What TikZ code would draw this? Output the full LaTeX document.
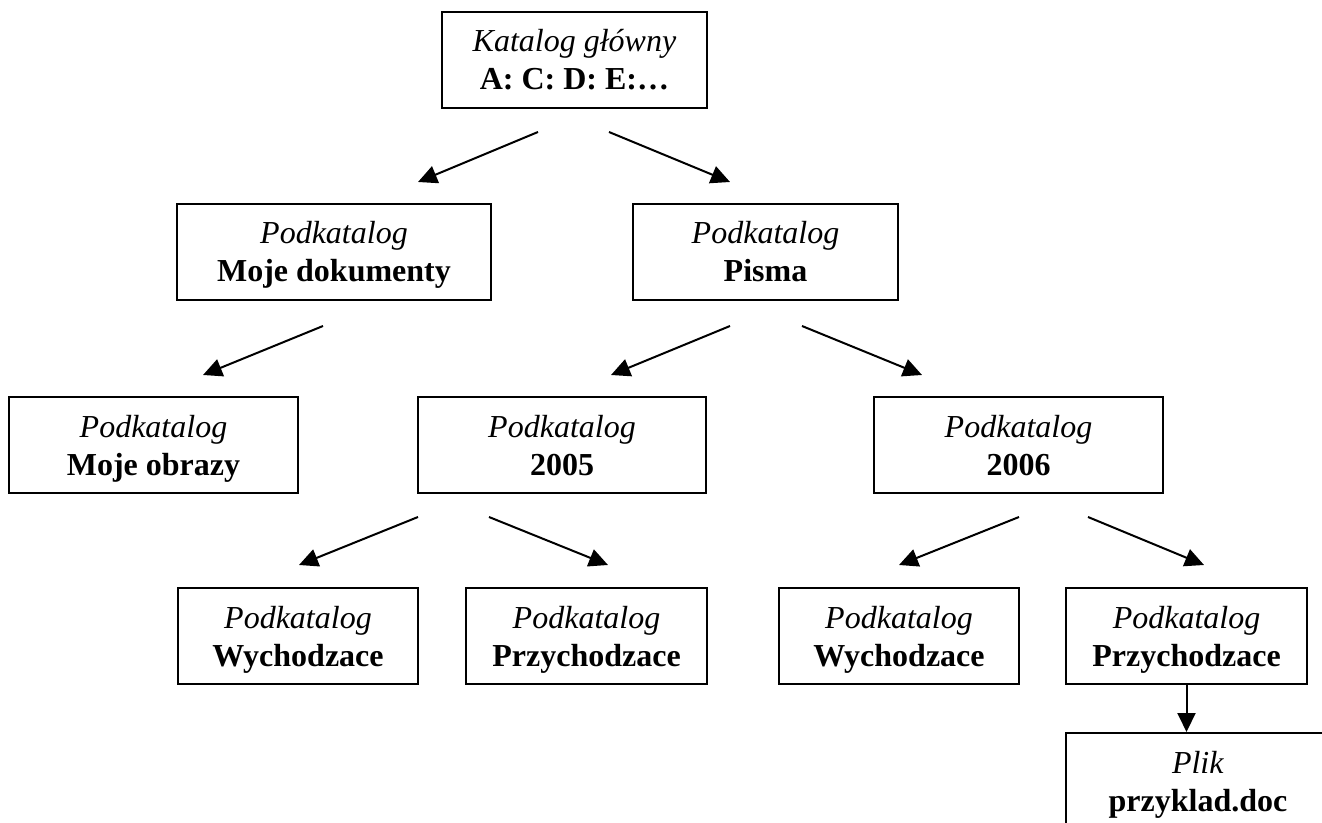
\documentclass[tikz,border=0pt]{standalone}
\usepackage{fontspec}
\setmainfont{Liberation Serif}
\usetikzlibrary{arrows.meta}
\newcommand{\kat}[2]{\textit{#1}\rule{0pt}{14.5pt}\\\textbf{#2}\rule[-3.5pt]{0pt}{1pt}}

\begin{document}
\begin{tikzpicture}[x=0.5pt, y=-0.5pt,
        box/.style={draw, line width=1pt, minimum height=48pt, inner sep=0pt,
            align=center, font=\fontsize{16pt}{19pt}\selectfont},
        arr/.style={line width=1pt, -{Triangle[length=9.5pt, width=9pt]}}]
        \useasboundingbox (0,0) rectangle (1322,823);

        % katalogi
        \node[box, minimum width=132.5pt] (root) at (574.5,60)
        {\kat{Katalog główny}{A: C: D: E:…}};
        \node[box, minimum width=157pt] (mojedok) at (334,252)
        {\kat{Podkatalog}{Moje dokumenty}};
        \node[box, minimum width=132.5pt] (pisma) at (765.5,252)
        {\kat{Podkatalog}{Pisma}};
        \node[box, minimum width=144.5pt] (obrazy) at (153.5,445)
        {\kat{Podkatalog}{Moje obrazy}};
        \node[box, minimum width=144pt] (rok2005) at (562,445)
        {\kat{Podkatalog}{2005}};
        \node[box, minimum width=144.5pt] (rok2006) at (1018.5,445)
        {\kat{Podkatalog}{2006}};
        \node[box, minimum width=120pt] (wych5) at (298,636)
        {\kat{Podkatalog}{Wychodzace}};
        \node[box, minimum width=120.5pt] (przych5) at (586.5,636)
        {\kat{Podkatalog}{Przychodzace}};
        \node[box, minimum width=120pt] (wych6) at (899,636)
        {\kat{Podkatalog}{Wychodzace}};
        \node[box, minimum width=120.5pt] (przych6) at (1186.5,636)
        {\kat{Podkatalog}{Przychodzace}};
        \node[box, minimum width=132pt] (plik) at (1198,781)
        {\kat{Plik}{przyklad.doc}};

        % strzalki
        \coordinate (root-l) at (538,132);
        \coordinate (root-r) at (609,132);
        \coordinate (mojedok-t) at (418,182);
        \coordinate (pisma-t) at (730,182);
        \coordinate (mojedok-l) at (323,326);
        \coordinate (obrazy-t) at (203,375);
        \coordinate (pisma-l) at (730,326);
        \coordinate (pisma-r) at (802,326);
        \coordinate (rok2005-t) at (611,375);
        \coordinate (rok2006-t) at (922,375);
        \coordinate (rok2005-l) at (418,517);
        \coordinate (rok2005-r) at (489,517);
        \coordinate (wych5-t) at (299,565);
        \coordinate (przych5-t) at (608,565);
        \coordinate (rok2006-l) at (1019,517);
        \coordinate (rok2006-r) at (1088,517);
        \coordinate (wych6-t) at (899,565);
        \coordinate (przych6-t) at (1204,565);

        \draw[arr] (root-l) -- (mojedok-t);
        \draw[arr] (root-r) -- (pisma-t);
        \draw[arr] (mojedok-l) -- (obrazy-t);
        \draw[arr] (pisma-l) -- (rok2005-t);
        \draw[arr] (pisma-r) -- (rok2006-t);
        \draw[arr] (rok2005-l) -- (wych5-t);
        \draw[arr] (rok2005-r) -- (przych5-t);
        \draw[arr] (rok2006-l) -- (wych6-t);
        \draw[arr] (rok2006-r) -- (przych6-t);
        \draw[arr] (przych6.south) -- (przych6.south |- plik.north);

    \end{tikzpicture}
\end{document}
